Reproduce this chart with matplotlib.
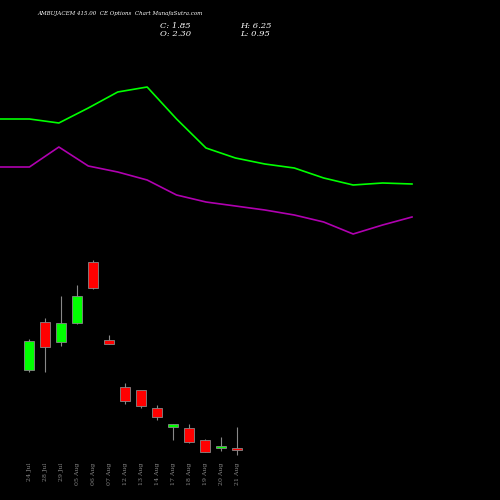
import matplotlib
matplotlib.use('Agg')
import matplotlib.pyplot as plt

# ── Data ───────────────────────────────────────────────────────────────
dates = ['24 Jul', '28 Jul', '29 Jul', '05 Aug', '06 Aug', '07 Aug', '12 Aug',
         '13 Aug', '14 Aug', '17 Aug', '18 Aug', '19 Aug', '20 Aug', '21 Aug']
opens = [17.1, 26.2, 22.4, 26.0, 37.6, 22.8, 13.9, 13.3, 9.9, 6.3, 6.1, 3.8, 2.2, 2.3]
closes = [22.6, 21.5, 26.0, 31.2, 32.7, 22.0, 11.2, 10.3, 8.2, 6.8, 3.4, 1.5, 2.5, 1.85]
highs = [23.0, 27.0, 31.2, 33.3, 38.0, 23.8, 14.6, 10.5, 10.5, 6.9, 6.8, 3.9, 4.4, 6.25]
lows = [16.7, 16.7, 21.7, 25.8, 32.5, 22.0, 10.6, 9.9, 7.6, 3.8, 3.2, 1.5, 1.7, 0.95]

line_green = [381, 381, 377, 392, 408, 413, 381, 352, 342, 336, 332, 322, 315, 317, 316]
line_purple = [333, 333, 353, 334, 328, 320, 305, 298, 294, 290, 285, 278, 266, 275, 283]

GREEN = '#00ff00'
RED = '#ff0000'
PURPLE = '#b000b0'
GREY = '#888888'

fig = plt.figure(figsize=(5, 5), dpi=100, facecolor='black')
ax = fig.add_axes([0, 0, 1, 1], facecolor='black')
ax.set_xlim(-1.8125, 29.4375)
ax.set_ylim(-7.6, 87.4)
ax.axis('off')

for i, (o, c, h, l) in enumerate(zip(opens, closes, highs, lows)):
    col = GREEN if c >= o else RED
    ax.vlines(i, l, h, color=GREY, lw=0.8, zorder=1)
    ax.bar(i, max(abs(c - o), 0.5), bottom=min(o, c), width=0.62,
           color=col, edgecolor=GREY, lw=0.6, zorder=2)
    ax.text(i, -0.5, dates[i], rotation=90, ha='center', va='top',
            color=GREY, fontsize=4.5, family='DejaVu Serif')

lx = fig.add_axes([0, 0, 1, 1], facecolor='none')
lx.set_xlim(0, 14 * 500 / 412)
lx.set_ylim(0, 500)
lx.axis('off')
lx.plot(range(len(line_green)), line_green, color=GREEN, lw=1.2)
lx.plot(range(len(line_purple)), line_purple, color=PURPLE, lw=1.2)

fig.text(0.074, 0.97, 'AMBUJACEM 415.00  CE Options  Chart MunafaSutra.com',
         color='white', fontsize=4, family='DejaVu Serif', style='italic')
fig.text(0.32, 0.945, 'C: 1.85', color='white', fontsize=6, family='DejaVu Serif', style='italic')
fig.text(0.32, 0.928, 'O: 2.30', color='white', fontsize=6, family='DejaVu Serif', style='italic')
fig.text(0.48, 0.945, 'H: 6.25', color='white', fontsize=6, family='DejaVu Serif', style='italic')
fig.text(0.48, 0.928, 'L: 0.95', color='white', fontsize=6, family='DejaVu Serif', style='italic')

fig.savefig('out.png', dpi=100, facecolor='black')
